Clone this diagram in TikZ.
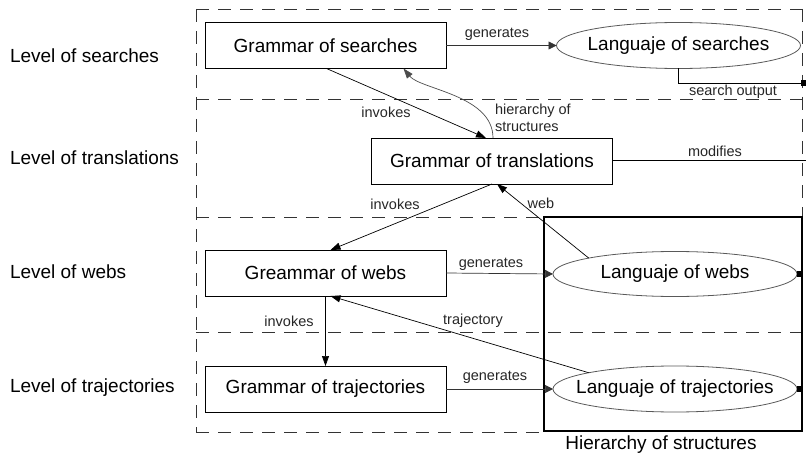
\documentclass[tikz,border=0pt]{standalone}
\usepackage{fontspec}
\setmainfont{Liberation Sans}
\usetikzlibrary{arrows.meta,shapes.geometric,calc}
\begin{document}
\begin{tikzpicture}[x=1pt,y=-1pt,
  every node/.style={inner sep=0pt, outer sep=0pt},
  levellabel/.style={anchor=west, font=\fontsize{19}{21}\selectfont},
  grammar/.style={draw=black, line width=0.8pt, minimum width=241pt, minimum height=46pt,
    font=\fontsize{19}{21}\selectfont},
  language/.style={ellipse, draw=black!65, line width=0.8pt, minimum width=244pt, minimum height=45pt,
    font=\fontsize{19}{21}\selectfont},
  edgelabel/.style={font=\fontsize{14.5}{16}\selectfont, text=black!85},
  region/.style={dashed, dash pattern=on 13pt off 9pt, line width=0.7pt, draw=black!80},
  conn/.style={line width=0.7pt, draw=black, -{Triangle[length=10pt,width=7pt]}},
  gen/.style={line width=0.7pt, draw=black!80, -{Triangle[length=8pt,width=8pt]}},
  plain/.style={line width=0.7pt, draw=black},
  dot/.style={line width=0.7pt, draw=black, -{Square[length=5pt,width=6pt]}},
]
\useasboundingbox (0,0) rectangle (807,460);

% dashed level regions
\draw[region] (196,9) -- (802,9);
\draw[region] (196,9) -- (196,432);
\draw[region] (802,9) -- (802,217);
\draw[region] (196,99) -- (802,99);
\draw[region] (196,217) -- (544,217);
\draw[region] (196,332) -- (802,332);
\draw[region] (196,432) -- (544,432);

% hierarchy of structures frame
\draw[line width=2.6pt] (544,217) rectangle (802,431);
\node (hs) at (661,445) {\fontsize{19}{21}\selectfont Hierarchy of structures};

% level names
\node[levellabel] (l1) at (10,56) {Level of searches};
\node[levellabel] (l2) at (10,158) {Level of translations};
\node[levellabel] (l3) at (10,272) {Level of webs};
\node[levellabel] (l4) at (10,388) {Level of trajectories};

% grammars
\node[grammar] (gs) at (325.5,45.5) {Grammar of searches};
\node[grammar] (gt) at (492,161) {Grammar of translations};
\node[grammar] (gw) at (325.5,273) {Greammar of webs};
\node[grammar] (gr) at (325.5,389) {Grammar of trajectories};

% languages (fixed ellipse size, text centred inside)
\node[language, minimum height=46pt] (ls) at (678.5,45.5) {\makebox[0pt]{Languaje of searches}};
\node[language] (lw) at (675,274) {\makebox[0pt]{Languaje of webs}};
\node[language, minimum height=46pt] (lr) at (675,389) {\makebox[0pt]{Languaje of trajectories}};

% free ends at the right border
\coordinate (so) at (806,83);
\coordinate (mo) at (806,160);
\coordinate (we) at (802,274);
\coordinate (re) at (802,389);

% generates
\draw[gen] (gs.east) -- (ls.west);
\node[edgelabel] (g1) at (497,34) {generates};
\draw[gen] (gw.east) -- (lw.west);
\node[edgelabel] (g2) at (491,264) {generates};
\draw[gen] (gr.east) -- (lr.west);
\node[edgelabel] (g3) at (495,377) {generates};

% search output and modifies
\draw[dot] (ls.south) |- (so);
\node[edgelabel] (sol) at (733,92) {search output};
\draw[plain] (gt.east |- mo) -- (mo);
\node[edgelabel] (mol) at (715,151) {modifies};

% right ends of the languages of webs and trajectories
\draw[dot] (lw.east) -- (we);
\draw[dot] (lr.east) -- (re);

% invokes
\draw[conn] ([xshift=1pt]gs.south) -- ([xshift=-6pt]gt.north);
\node[edgelabel] (i1) at (386,112) {invokes};
\draw[conn] (gt.south) -- ([xshift=5pt]gw.north);
\node[edgelabel] (i2) at (395,204) {invokes};
\draw[conn] (gw.south) -- (gr.north);
\node[edgelabel] (i3) at (289,321) {invokes};

% hierarchy of structures feedback
\draw[line width=0.7pt, draw=black!70, -{Triangle[length=10pt,width=7pt]}]
  ([xshift=1pt]gt.north) .. controls +(0,-43) and +(17,21) .. ([xshift=78pt]gs.south);
\node[edgelabel, anchor=west, align=left] (hl) at (495,118)
  {hierarchy of\\[1pt]structures};

% web and trajectory feedback
\draw[conn] (lw.north west) -- ([xshift=5pt]gt.south);
\node[edgelabel] (wl) at (541,203) {web};
\draw[conn] (lr.north west) -- ([xshift=5pt]gw.south);
\node[edgelabel] (tl) at (473,321) {trajectory};

\end{tikzpicture}
\end{document}
